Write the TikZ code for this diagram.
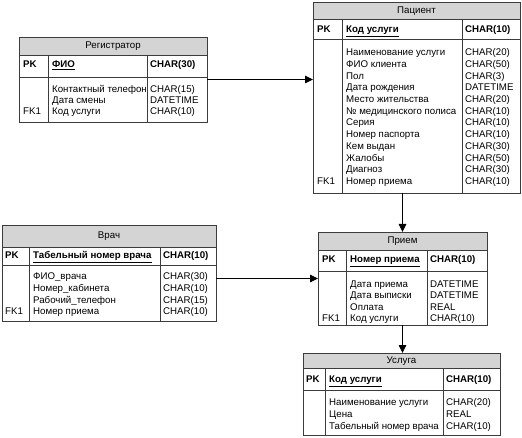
\documentclass[tikz,border=0pt]{standalone}
\usepackage{fontspec}
\setmainfont{Liberation Sans}
\usetikzlibrary{arrows.meta}
\definecolor{hdrgray}{RGB}{212,212,212}
\definecolor{linegray}{RGB}{60,60,60}
\tikzset{
  tbl/.style={draw=linegray, line width=0.8pt, inner sep=0pt, outer sep=0pt, anchor=north west},
  sep/.style={draw=linegray, line width=0.8pt},
  hdr/.style={fill=hdrgray},
  fld/.style={anchor=west, inner sep=0pt, text height=7pt, text depth=2pt, font=\fontsize{9.7}{10}\selectfont},
  ttl/.style={anchor=center, inner sep=0pt, text height=7pt, text depth=2pt, font=\fontsize{9.7}{10}\selectfont},
  pkf/.style={fld, font=\fontsize{9.7}{10}\selectfont\bfseries},
  conn/.style={draw=black, line width=0.9pt, -{Triangle[length=8pt,width=7.5pt]}}
}
\newcommand{\pkname}[1]{\underline{#1}}
\begin{document}
\begin{tikzpicture}[x=1pt,y=-1pt]
\useasboundingbox (0,0) rectangle (522,438);

% ---------- Регистратор ----------
\fill[hdr] (19,37) rectangle (207,55);
\node[tbl, minimum width=188pt, minimum height=85pt] (reg) at (19,37) {};
\draw[sep] (19,55) -- (207,55) (19,77) -- (207,77) (48,55) -- (48,122) (147,55) -- (147,122);
\node[ttl] (regt) at (113,46) {Регистратор};
\node[pkf] (regpk) at (23,65) {PK};
\node[pkf] (regpkn) at (52,65) {\pkname{ФИО}};
\node[pkf] (regpkt) at (150,65) {CHAR(30)};
\node[fld] (reg1) at (52,90) {Контактный телефон};
\node[fld] (reg1t) at (150,90) {CHAR(15)};
\node[fld] (reg2) at (52,101) {Дата смены};
\node[fld] (reg2t) at (150,101) {DATETIME};
\node[fld] (regfk) at (23,112) {FK1};
\node[fld] (reg3) at (52,112) {Код услуги};
\node[fld] (reg3t) at (150,112) {CHAR(10)};

% ---------- Пациент ----------
\fill[hdr] (313,2) rectangle (520,19);
\node[tbl, minimum width=207pt, minimum height=191pt] (pat) at (313,2) {};
\draw[sep] (313,19) -- (520,19) (313,39) -- (520,39) (342,19) -- (342,193) (462,19) -- (462,193);
\node[ttl] (patt) at (416.5,11) {Пациент};
\node[pkf] (patpk) at (317,30) {PK};
\node[pkf] (patpkn) at (346,30) {\pkname{Код услуги}};
\node[pkf] (patpkt) at (465,30) {CHAR(10)};
\node[fld] (p1) at (346,53.3) {Наименование услуги};  \node[fld] (p1t) at (465,53.3) {CHAR(20)};
\node[fld] (p2) at (346,65.0) {ФИО клиента};          \node[fld] (p2t) at (465,65.0) {CHAR(50)};
\node[fld] (p3) at (346,76.7) {Пол};                  \node[fld] (p3t) at (465,76.7) {CHAR(3)};
\node[fld] (p4) at (346,88.4) {Дата рождения};        \node[fld] (p4t) at (465,88.4) {DATETIME};
\node[fld] (p5) at (346,100.1) {Место жительства};    \node[fld] (p5t) at (465,100.1) {CHAR(20)};
\node[fld] (p6) at (346,111.8) {№ медицинского полиса}; \node[fld] (p6t) at (465,111.8) {CHAR(10)};
\node[fld] (p7) at (346,123.5) {Серия};               \node[fld] (p7t) at (465,123.5) {CHAR(10)};
\node[fld] (p8) at (346,135.2) {Номер паспорта};      \node[fld] (p8t) at (465,135.2) {CHAR(10)};
\node[fld] (p9) at (346,146.9) {Кем выдан};           \node[fld] (p9t) at (465,146.9) {CHAR(30)};
\node[fld] (p10) at (346,158.6) {Жалобы};             \node[fld] (p10t) at (465,158.6) {CHAR(50)};
\node[fld] (p11) at (346,170.3) {Диагноз};            \node[fld] (p11t) at (465,170.3) {CHAR(30)};
\node[fld] (patfk) at (317,182) {FK1};
\node[fld] (p12) at (346,182) {Номер приема};         \node[fld] (p12t) at (465,182) {CHAR(10)};

% ---------- Врач ----------
\fill[hdr] (2,225) rectangle (216,247);
\node[tbl, minimum width=214pt, minimum height=96pt] (vr) at (2,225) {};
\draw[sep] (2,247) -- (216,247) (2,265) -- (216,265) (29,247) -- (29,321) (160,247) -- (160,321);
\node[ttl] (vrt) at (109,236) {Врач};
\node[pkf] (vrpk) at (5,256) {PK};
\node[pkf] (vrpkn) at (33,256) {\pkname{Табельный номер врача}};
\node[pkf] (vrpkt) at (163,256) {CHAR(10)};
\node[fld] (v1) at (33,277.3) {ФИО\_врача};       \node[fld] (v1t) at (163,277.3) {CHAR(30)};
\node[fld] (v2) at (33,289.0) {Номер\_кабинета};  \node[fld] (v2t) at (163,289.0) {CHAR(10)};
\node[fld] (v3) at (33,300.7) {Рабочий\_телефон}; \node[fld] (v3t) at (163,300.7) {CHAR(15)};
\node[fld] (vrfk) at (5,312.5) {FK1};
\node[fld] (v4) at (33,312.5) {Номер приема};     \node[fld] (v4t) at (163,312.5) {CHAR(10)};

% ---------- Прием ----------
\fill[hdr] (318,232) rectangle (487,250);
\node[tbl, minimum width=169pt, minimum height=93pt] (pr) at (318,232) {};
\draw[sep] (318,250) -- (487,250) (318,271) -- (487,271) (346,250) -- (346,325) (427,250) -- (427,325);
\node[ttl] (prt) at (402.5,241) {Прием};
\node[pkf] (prpk) at (322,260.5) {PK};
\node[pkf] (prpkn) at (350,260.5) {\pkname{Номер приема}};
\node[pkf] (prpkt) at (430,260.5) {CHAR(10)};
\node[fld] (r1) at (350,285) {Дата приема};   \node[fld] (r1t) at (430,285) {DATETIME};
\node[fld] (r2) at (350,296.5) {Дата выписки}; \node[fld] (r2t) at (430,296.5) {DATETIME};
\node[fld] (r3) at (350,308) {Оплата};        \node[fld] (r3t) at (430,308) {REAL};
\node[fld] (prfk) at (322,319.5) {FK1};
\node[fld] (r4) at (350,319.5) {Код услуги};  \node[fld] (r4t) at (430,319.5) {CHAR(10)};

% ---------- Услуга ----------
\fill[hdr] (303,353) rectangle (500,368);
\node[tbl, minimum width=197pt, minimum height=82pt] (usl) at (303,353) {};
\draw[sep] (303,368) -- (500,368) (303,390) -- (500,390) (325,368) -- (325,435) (443,368) -- (443,435);
\node[ttl] (uslt) at (401.5,360.5) {Услуга};
\node[pkf] (uslpk) at (306,380) {PK};
\node[pkf] (uslpkn) at (329,380) {\pkname{Код услуги}};
\node[pkf] (uslpkt) at (446,380) {CHAR(10)};
\node[fld] (u1) at (329,403.3) {Наименование услуги}; \node[fld] (u1t) at (446,403.3) {CHAR(20)};
\node[fld] (u2) at (329,415.3) {Цена};                \node[fld] (u2t) at (446,415.3) {REAL};
\node[fld] (u3) at (329,427.3) {Табельный номер врача}; \node[fld] (u3t) at (446,427.3) {CHAR(10)};

% ---------- connectors ----------
\draw[conn] (reg.east) -- (reg.east -| pat.west);
\draw[conn] (pr.north |- pat.south) -- (pr.north);
\draw[conn] (pr.west -| vr.east) -- (pr.west);
\draw[conn] (pr.south) -- (pr.south |- usl.north);
\end{tikzpicture}
\end{document}
